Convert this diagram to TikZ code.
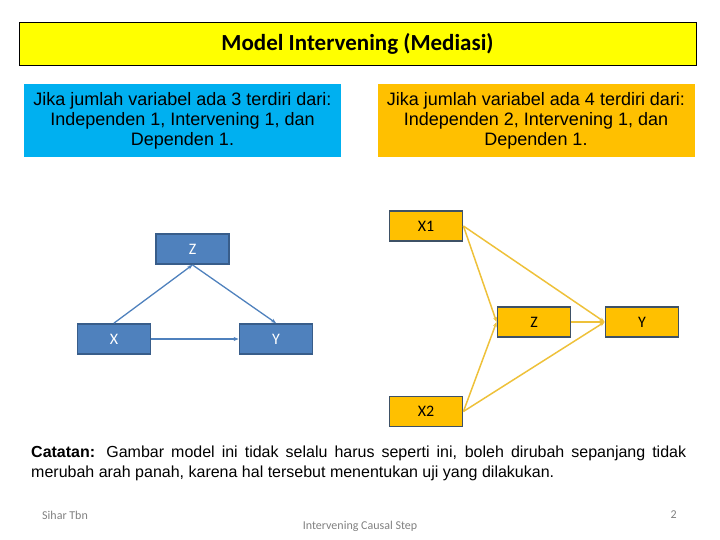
\documentclass[tikz,border=0pt]{standalone}
\usepackage{fontspec}
\setmainfont{Liberation Sans}
\newfontfamily\calib{Carlito}
\usetikzlibrary{arrows.meta}
\definecolor{titleyel}{HTML}{FFFF00}
\definecolor{skyblue}{HTML}{00B0F0}
\definecolor{amber}{HTML}{FFC000}
\definecolor{nodeblue}{HTML}{4F81BD}
\definecolor{nodeblueb}{HTML}{385D8A}
\definecolor{slateb}{HTML}{3E5166}
\definecolor{goldline}{HTML}{EEC13A}
\definecolor{footgray}{HTML}{808080}
\tikzset{
  bluenode/.style={draw=nodeblueb, line width=1.8pt, fill=nodeblue, text=white, minimum width=73pt, minimum height=30pt, inner sep=0pt, font=\calib\fontsize{16}{18}\selectfont},
  ambnode/.style={draw=slateb, line width=1.8pt, fill=amber, text=black, minimum width=73pt, minimum height=30pt, inner sep=0pt, font=\calib\fontsize{16}{18}\selectfont},
  blueline/.style={draw=nodeblue, line width=1.3pt, -{Stealth[length=5pt,width=4pt]}},
  goldarr/.style={draw=goldline, line width=1.5pt, -{Stealth[length=5pt,width=4pt]}},
  infobox/.style={minimum width=317pt, minimum height=73pt, inner sep=0pt, align=center, font=\fontsize{18}{20}\selectfont},
  foot/.style={text=footgray, inner sep=0pt, font=\calib\fontsize{12}{14}\selectfont}
}
\begin{document}
\begin{tikzpicture}[x=1pt,y=-1pt]
\useasboundingbox (0,0) rectangle (720,540);
% title
\node[draw=black, line width=0.8pt, fill=titleyel, minimum width=677pt, minimum height=43pt, inner sep=0pt, font=\calib\bfseries\fontsize{23}{26}\selectfont] (title) at (357.5,43.5) {Model Intervening (Mediasi)};
% info boxes
\node[infobox, fill=skyblue] (info3) at (182.5,120.5) {Jika jumlah variabel ada 3 terdiri dari:\\Independen 1, Intervening 1, dan\\Dependen 1.};
\node[infobox, fill=amber] (info4) at (536,120.5) {Jika jumlah variabel ada 4 terdiri dari:\\Independen 2, Intervening 1, dan\\Dependen 1.};
% blue diagram
\node[bluenode] (bz) at (192.5,249) {Z};
\node[bluenode] (bx) at (114,339) {X};
\node[bluenode] (by) at (276,339) {Y};
\draw[blueline] (bx.north) -- (bz.south);
\draw[blueline] (bz.south) -- (by.north);
\draw[blueline] (bx.east) -- (by.west);
% amber diagram
\node[ambnode] (ax1) at (426,226) {X1};
\node[ambnode] (az) at (534,322) {Z};
\node[ambnode] (ay) at (642,322) {Y};
\node[ambnode] (ax2) at (426,411.5) {X2};
\draw[goldarr] (ax1.east) -- (az.west);
\draw[goldarr] (ax2.east) -- (az.west);
\draw[goldarr] (ax1.east) -- (ay.west);
\draw[goldarr] (ax2.east) -- (ay.west);
\draw[goldarr] (az.east) -- (ay.west);
% note
\node[anchor=north west, text width=655pt, align=justify, inner sep=0pt, font=\fontsize{16}{20}\selectfont] (note) at (31,446) {\textbf{Catatan:} Gambar model ini tidak selalu harus seperti ini, boleh dirubah sepanjang tidak merubah arah panah, karena hal tersebut menentukan uji yang dilakukan.};
% footer
\node[foot, anchor=west] (f1) at (42,515) {Sihar Tbn};
\node[foot] (f2) at (360,526) {Intervening Causal Step};
\node[foot, anchor=east] (f3) at (677,515) {2};
\end{tikzpicture}
\end{document}
